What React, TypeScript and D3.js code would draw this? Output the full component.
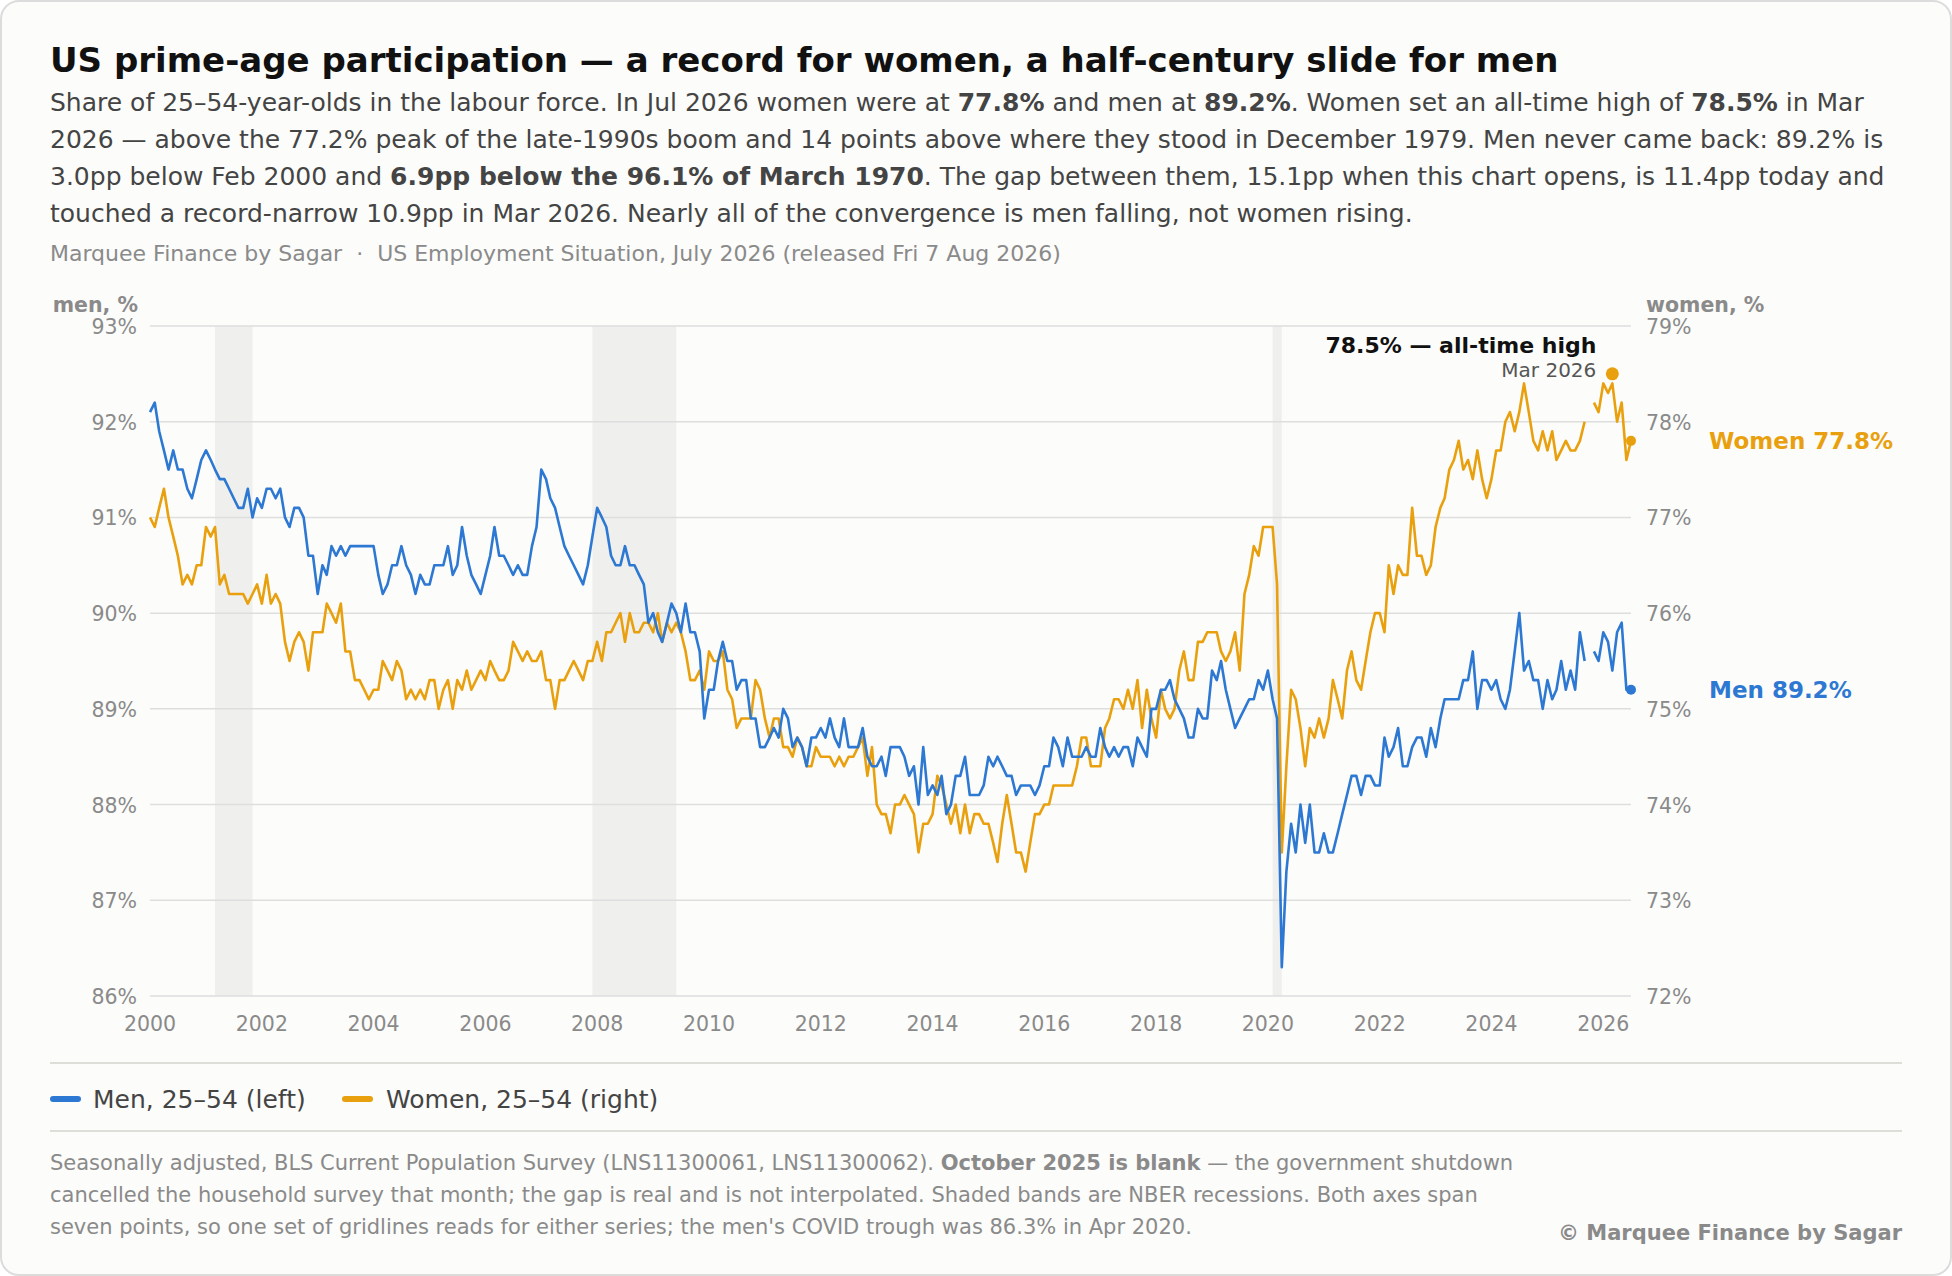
import React from 'react';
import * as d3 from 'd3';

// Monthly prime-age (25–54) participation, Jan 2000 – Jul 2026. Oct 2025 missing (shutdown).
const startMonth = new Date(2000, 0, 1);

const menValues: (number | null)[] = [
  92.1, 92.2, 91.9, 91.7, 91.5, 91.7, 91.5, 91.5, 91.3, 91.2, 91.4, 91.6,
  91.7, 91.6, 91.5, 91.4, 91.4, 91.3, 91.2, 91.1, 91.1, 91.3, 91.0, 91.2,
  91.1, 91.3, 91.3, 91.2, 91.3, 91.0, 90.9, 91.1, 91.1, 91.0, 90.6, 90.6,
  90.2, 90.5, 90.4, 90.7, 90.6, 90.7, 90.6, 90.7, 90.7, 90.7, 90.7, 90.7,
  90.7, 90.4, 90.2, 90.3, 90.5, 90.5, 90.7, 90.5, 90.4, 90.2, 90.4, 90.3,
  90.3, 90.5, 90.5, 90.5, 90.7, 90.4, 90.5, 90.9, 90.6, 90.4, 90.3, 90.2,
  90.4, 90.6, 90.9, 90.6, 90.6, 90.5, 90.4, 90.5, 90.4, 90.4, 90.7, 90.9,
  91.5, 91.4, 91.2, 91.1, 90.9, 90.7, 90.6, 90.5, 90.4, 90.3, 90.5, 90.8,
  91.1, 91.0, 90.9, 90.6, 90.5, 90.5, 90.7, 90.5, 90.5, 90.4, 90.3, 89.9,
  90.0, 89.8, 89.7, 89.9, 90.1, 90.0, 89.8, 90.1, 89.8, 89.8, 89.6, 88.9,
  89.2, 89.2, 89.5, 89.7, 89.5, 89.5, 89.2, 89.3, 89.3, 88.9, 88.9, 88.6,
  88.6, 88.7, 88.8, 88.7, 89.0, 88.9, 88.6, 88.7, 88.6, 88.4, 88.7, 88.7,
  88.8, 88.7, 88.9, 88.7, 88.6, 88.9, 88.6, 88.6, 88.6, 88.8, 88.5, 88.4,
  88.4, 88.5, 88.3, 88.6, 88.6, 88.6, 88.5, 88.3, 88.4, 88.0, 88.6, 88.1,
  88.2, 88.1, 88.3, 87.9, 88.0, 88.3, 88.3, 88.5, 88.1, 88.1, 88.1, 88.2,
  88.5, 88.4, 88.5, 88.4, 88.3, 88.3, 88.1, 88.2, 88.2, 88.2, 88.1, 88.2,
  88.4, 88.4, 88.7, 88.6, 88.4, 88.7, 88.5, 88.5, 88.5, 88.6, 88.5, 88.5,
  88.8, 88.6, 88.5, 88.6, 88.5, 88.6, 88.6, 88.4, 88.7, 88.6, 88.5, 89.0,
  89.0, 89.2, 89.2, 89.3, 89.1, 89.0, 88.9, 88.7, 88.7, 89.0, 88.9, 88.9,
  89.4, 89.3, 89.5, 89.2, 89.0, 88.8, 88.9, 89.0, 89.1, 89.1, 89.3, 89.2,
  89.4, 89.1, 88.9, 86.3, 87.3, 87.8, 87.5, 88.0, 87.6, 88.0, 87.5, 87.5,
  87.7, 87.5, 87.5, 87.7, 87.9, 88.1, 88.3, 88.3, 88.1, 88.3, 88.3, 88.2,
  88.2, 88.7, 88.5, 88.6, 88.8, 88.4, 88.4, 88.6, 88.7, 88.7, 88.5, 88.8,
  88.6, 88.9, 89.1, 89.1, 89.1, 89.1, 89.3, 89.3, 89.6, 89.0, 89.3, 89.3,
  89.2, 89.3, 89.1, 89.0, 89.2, 89.6, 90.0, 89.4, 89.5, 89.3, 89.3, 89.0,
  89.3, 89.1, 89.2, 89.5, 89.2, 89.4, 89.2, 89.8, 89.5, null, 89.6, 89.5,
  89.8, 89.7, 89.4, 89.8, 89.9, 89.2, 89.2,
];

const womenValues: (number | null)[] = [
  77.0, 76.9, 77.1, 77.3, 77.0, 76.8, 76.6, 76.3, 76.4, 76.3, 76.5, 76.5,
  76.9, 76.8, 76.9, 76.3, 76.4, 76.2, 76.2, 76.2, 76.2, 76.1, 76.2, 76.3,
  76.1, 76.4, 76.1, 76.2, 76.1, 75.7, 75.5, 75.7, 75.8, 75.7, 75.4, 75.8,
  75.8, 75.8, 76.1, 76.0, 75.9, 76.1, 75.6, 75.6, 75.3, 75.3, 75.2, 75.1,
  75.2, 75.2, 75.5, 75.4, 75.3, 75.5, 75.4, 75.1, 75.2, 75.1, 75.2, 75.1,
  75.3, 75.3, 75.0, 75.2, 75.3, 75.0, 75.3, 75.2, 75.4, 75.2, 75.3, 75.4,
  75.3, 75.5, 75.4, 75.3, 75.3, 75.4, 75.7, 75.6, 75.5, 75.6, 75.5, 75.5,
  75.6, 75.3, 75.3, 75.0, 75.3, 75.3, 75.4, 75.5, 75.4, 75.3, 75.5, 75.5,
  75.7, 75.5, 75.8, 75.8, 75.9, 76.0, 75.7, 76.0, 75.8, 75.8, 75.9, 75.9,
  75.8, 76.0, 75.7, 75.9, 75.8, 75.9, 75.8, 75.6, 75.3, 75.3, 75.4, 75.2,
  75.6, 75.5, 75.5, 75.6, 75.2, 75.1, 74.8, 74.9, 74.9, 74.9, 75.3, 75.2,
  74.9, 74.7, 74.9, 74.9, 74.6, 74.6, 74.5, 74.7, 74.6, 74.4, 74.4, 74.6,
  74.5, 74.5, 74.5, 74.4, 74.5, 74.4, 74.5, 74.5, 74.6, 74.7, 74.3, 74.6,
  74.0, 73.9, 73.9, 73.7, 74.0, 74.0, 74.1, 74.0, 73.9, 73.5, 73.8, 73.8,
  73.9, 74.3, 74.2, 74.0, 73.8, 74.0, 73.7, 74.0, 73.7, 73.9, 73.9, 73.8,
  73.8, 73.6, 73.4, 73.8, 74.1, 73.8, 73.5, 73.5, 73.3, 73.6, 73.9, 73.9,
  74.0, 74.0, 74.2, 74.2, 74.2, 74.2, 74.2, 74.4, 74.7, 74.7, 74.4, 74.4,
  74.4, 74.8, 74.9, 75.1, 75.1, 75.0, 75.2, 75.0, 75.3, 74.8, 75.2, 74.9,
  74.7, 75.2, 75.0, 74.9, 75.0, 75.4, 75.6, 75.3, 75.3, 75.7, 75.7, 75.8,
  75.8, 75.8, 75.6, 75.5, 75.6, 75.8, 75.4, 76.2, 76.4, 76.7, 76.6, 76.9,
  76.9, 76.9, 76.3, 73.5, 74.4, 75.2, 75.1, 74.8, 74.4, 74.8, 74.7, 74.9,
  74.7, 74.9, 75.3, 75.1, 74.9, 75.4, 75.6, 75.3, 75.2, 75.5, 75.8, 76.0,
  76.0, 75.8, 76.5, 76.2, 76.5, 76.4, 76.4, 77.1, 76.6, 76.6, 76.4, 76.5,
  76.9, 77.1, 77.2, 77.5, 77.6, 77.8, 77.5, 77.6, 77.4, 77.7, 77.4, 77.2,
  77.4, 77.7, 77.7, 78.0, 78.1, 77.9, 78.1, 78.4, 78.1, 77.8, 77.7, 77.9,
  77.7, 77.9, 77.6, 77.7, 77.8, 77.7, 77.7, 77.8, 78.0, null, 78.2, 78.1,
  78.4, 78.3, 78.4, 78.0, 78.2, 77.6, 77.8,
];

// NBER recessions [start, end] as 'YYYY-MM'
const recessions: [string, string][] = [
  ['2001-03', '2001-11'],
  ['2007-12', '2009-06'],
  ['2020-02', '2020-04'],
];

const menTicks = [86, 87, 88, 89, 90, 91, 92, 93];
const womenTicks = [72, 73, 74, 75, 76, 77, 78, 79];
const yearTicks = [2000, 2002, 2004, 2006, 2008, 2010, 2012, 2014, 2016, 2018, 2020, 2022, 2024, 2026];

const womenPeak = { month: '2026-03', value: 78.5, label: '78.5% — all-time high', sub: 'Mar 2026' };

const BLUE = '#2d78d2';
const ORANGE = '#e9a00e';
const FONT = '"DejaVu Sans", Verdana, sans-serif';

const parseMonth = d3.timeParse('%Y-%m');

const W = 1952;
const H = 1276;
const plot = { left: 150, right: 1631, top: 326, bottom: 996 };

type Pt = { date: Date; value: number | null };

const toPoints = (vals: (number | null)[]): Pt[] =>
  vals.map((v, i) => ({ date: d3.timeMonth.offset(startMonth, i), value: v }));

const App: React.FC = () => {
  const men = toPoints(menValues);
  const women = toPoints(womenValues);
  const lastDate = men[men.length - 1].date;

  const x = d3.scaleTime().domain([startMonth, lastDate]).range([plot.left, plot.right]);
  const yMen = d3.scaleLinear().domain([86, 93]).range([plot.bottom, plot.top]);
  const yWomen = d3.scaleLinear().domain([72, 79]).range([plot.bottom, plot.top]);

  const lineMen = d3.line<Pt>()
    .defined(d => d.value !== null)
    .x(d => x(d.date))
    .y(d => yMen(d.value as number));
  const lineWomen = d3.line<Pt>()
    .defined(d => d.value !== null)
    .x(d => x(d.date))
    .y(d => yWomen(d.value as number));

  const lastMen = menValues[menValues.length - 1] as number;
  const lastWomen = womenValues[womenValues.length - 1] as number;

  const peakX = x(parseMonth(womenPeak.month) as Date);
  const peakY = yWomen(womenPeak.value);

  const grey = '#8a8a8a';

  return (
    <div style={{ position: 'absolute', left: 0, top: 0 }}>
      <svg width={W} height={H} style={{ display: 'block', fontFamily: FONT }}>
        <rect x={1} y={1} width={W - 2} height={H - 2} rx={18} fill="#fcfcfa" stroke="#dcdcdc" strokeWidth={2} />

        {/* Header */}
        <text x={50} y={72} fontSize={34} fontWeight="bold" fill="#111">
          US prime-age participation — a record for women, a half-century slide for men
        </text>
        <g fontSize={25} fill="#444">
          <text x={50} y={111}>
            Share of 25–54-year-olds in the labour force. In Jul 2026 women were at{' '}
            <tspan fontWeight="bold">77.8%</tspan> and men at <tspan fontWeight="bold">89.2%</tspan>. Women set an all-time high of{' '}
            <tspan fontWeight="bold">78.5%</tspan> in Mar
          </text>
          <text x={50} y={148}>
            2026 — above the 77.2% peak of the late-1990s boom and 14 points above where they stood in December 1979. Men never came back: 89.2% is
          </text>
          <text x={50} y={185}>
            3.0pp below Feb 2000 and <tspan fontWeight="bold">6.9pp below the 96.1% of March 1970</tspan>. The gap between them, 15.1pp when this chart opens, is 11.4pp today and
          </text>
          <text x={50} y={222}>
            touched a record-narrow 10.9pp in Mar 2026. Nearly all of the convergence is men falling, not women rising.
          </text>
        </g>
        <text x={50} y={261} fontSize={22} fill={grey} style={{ whiteSpace: 'pre' }}>
          {'Marquee Finance by Sagar  ·  US Employment Situation, July 2026 (released Fri 7 Aug 2026)'}
        </text>

        {/* Recession bands */}
        {recessions.map(([s, e]) => {
          const x0 = x(parseMonth(s) as Date);
          const x1 = x(parseMonth(e) as Date);
          return <rect key={s} x={x0} y={plot.top} width={x1 - x0} height={plot.bottom - plot.top} fill="#efefee" />;
        })}

        {/* Gridlines and y labels */}
        {menTicks.map((t, i) => (
          <g key={t}>
            <line x1={plot.left} x2={plot.right} y1={yMen(t)} y2={yMen(t)} stroke="#dedede" strokeWidth={1.5} />
            <text x={plot.left - 13} y={yMen(t) + 1} textAnchor="end" dominantBaseline="central" fontSize={20.5} fill={grey}>
              {t}%
            </text>
            <text x={plot.right + 15} y={yWomen(womenTicks[i]) + 1} dominantBaseline="central" fontSize={20.5} fill={grey}>
              {womenTicks[i]}%
            </text>
          </g>
        ))}
        <text x={plot.left - 12} y={312} textAnchor="end" fontSize={20.5} fontWeight="bold" fill={grey}>men, %</text>
        <text x={plot.right + 15} y={312} fontSize={20.5} fontWeight="bold" fill={grey}>women, %</text>

        {/* X labels */}
        {yearTicks.map(yr => (
          <text key={yr} x={x(new Date(yr, 0, 1))} y={1024} textAnchor="middle" dominantBaseline="central" fontSize={20.5} fill={grey}>
            {yr}
          </text>
        ))}

        {/* Series */}
        <path d={lineWomen(women) || ''} fill="none" stroke={ORANGE} strokeWidth={2.6} strokeLinejoin="round" />
        <path d={lineMen(men) || ''} fill="none" stroke={BLUE} strokeWidth={2.6} strokeLinejoin="round" />

        {/* End markers and labels */}
        <circle cx={x(lastDate)} cy={yWomen(lastWomen)} r={5} fill={ORANGE} />
        <circle cx={x(lastDate)} cy={yMen(lastMen)} r={5} fill={BLUE} />
        <text x={plot.right + 78} y={yWomen(lastWomen)} dominantBaseline="central" fontSize={23} fontWeight="bold" fill={ORANGE}>
          Women {lastWomen.toFixed(1)}%
        </text>
        <text x={plot.right + 78} y={yMen(lastMen)} dominantBaseline="central" fontSize={23} fontWeight="bold" fill={BLUE}>
          Men {lastMen.toFixed(1)}%
        </text>

        {/* Peak annotation */}
        <circle cx={peakX} cy={peakY} r={6.5} fill={ORANGE} />
        <text x={peakX - 16} y={peakY - 21} textAnchor="end" fontSize={22} fontWeight="bold" fill="#111">
          {womenPeak.label}
        </text>
        <text x={peakX - 16} y={peakY + 3} textAnchor="end" fontSize={20} fill="#555">
          {womenPeak.sub}
        </text>

        {/* Legend */}
        <line x1={50} x2={1902} y1={1063} y2={1063} stroke="#deded9" strokeWidth={2} />
        <rect x={50} y={1096} width={31} height={6} rx={3} fill={BLUE} />
        <text x={93} y={1099} dominantBaseline="central" fontSize={25} fill="#444">Men, 25–54 (left)</text>
        <rect x={342} y={1096} width={31} height={6} rx={3} fill={ORANGE} />
        <text x={386} y={1099} dominantBaseline="central" fontSize={25} fill="#444">Women, 25–54 (right)</text>
        <line x1={50} x2={1902} y1={1131} y2={1131} stroke="#deded9" strokeWidth={2} />

        {/* Footnote */}
        <g fontSize={21} fill={grey}>
          <text x={50} y={1170}>
            Seasonally adjusted, BLS Current Population Survey (LNS11300061, LNS11300062). <tspan fontWeight="bold">October 2025 is blank</tspan> — the government shutdown
          </text>
          <text x={50} y={1202}>
            cancelled the household survey that month; the gap is real and is not interpolated. Shaded bands are NBER recessions. Both axes span
          </text>
          <text x={50} y={1234}>
            seven points, so one set of gridlines reads for either series; the men's COVID trough was 86.3% in Apr 2020.
          </text>
        </g>
        <text x={1902} y={1240} textAnchor="end" fontSize={21} fontWeight="bold" fill={grey}>
          © Marquee Finance by Sagar
        </text>
      </svg>
    </div>
  );
};

export default App;
